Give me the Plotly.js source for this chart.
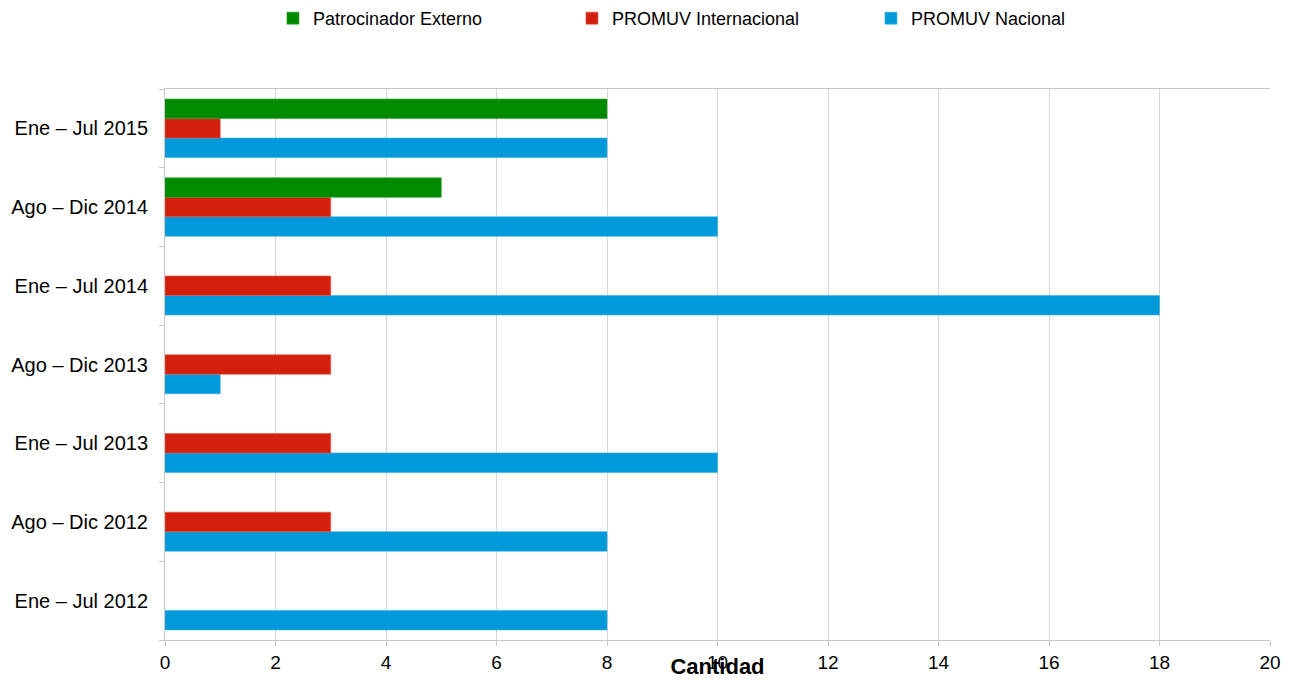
<!DOCTYPE html>
<html>
<head>
<meta charset="utf-8">
<script src="https://cdn.plot.ly/plotly-3.0.1.min.js"></script>
<style>html,body{margin:0;padding:0;background:#fff;}#chart{width:1289px;height:679px;}</style>
</head>
<body>
<div id="chart"></div>
<script>
const categories = ["Ene – Jul 2012", "Ago – Dic 2012", "Ene – Jul 2013", "Ago – Dic 2013", "Ene – Jul 2014", "Ago – Dic 2014", "Ene – Jul 2015"];
const promuvNacional = [8, 8, 10, 1, 18, 10, 8];
const promuvInternacional = [null, 3, 3, 3, 3, 3, 1];
const patrocinadorExterno = [null, null, null, null, null, 5, 8];
const xTicks = [0, 2, 4, 6, 8, 10, 12, 14, 16, 18, 20];

const traces = [
  {type: "bar", orientation: "h", name: "PROMUV Nacional", y: categories, x: promuvNacional,
   marker: {color: "#0099da", line: {color: "#35b0e6", width: 0.6}}},
  {type: "bar", orientation: "h", name: "PROMUV Internacional", y: categories, x: promuvInternacional,
   marker: {color: "#d41f0c", line: {color: "#e05a4a", width: 0.6}}},
  {type: "bar", orientation: "h", name: "Patrocinador Externo", y: categories, x: patrocinadorExterno,
   marker: {color: "#008a00", line: {color: "#2a9e2a", width: 0.6}}}
];

const layout = {
  width: 1289, height: 679,
  margin: {l: 165, r: 19, t: 89, b: 39},
  paper_bgcolor: "#ffffff", plot_bgcolor: "#ffffff",
  font: {family: "Liberation Sans, Arial, sans-serif", color: "#000000", size: 18},
  barmode: "group", bargap: 0.257, bargroupgap: 0,
  showlegend: true,
  legend: {orientation: "h", traceorder: "reversed", x: 0.0977, xanchor: "left", yref: "container", y: 1, yanchor: "top",
           entrywidth: 254, entrywidthmode: "pixels", font: {size: 18}, itemclick: false, tracegroupgap: 0},
  xaxis: {range: [0, 20], tickvals: xTicks, ticktext: xTicks.map(String), showgrid: true, gridcolor: "#d6d6d6", gridwidth: 1,
          zeroline: false, showline: true, linecolor: "#c8c8c8", linewidth: 1, mirror: true,
          ticks: "outside", ticklen: 5, tickcolor: "#c8c8c8", tickfont: {size: 19},
          title: {text: "Cantidad", font: {size: 22, family: "Liberation Sans, Arial, sans-serif", weight: "bold"}, standoff: 0}, fixedrange: true},
  yaxis: {type: "category", categoryorder: "array", categoryarray: categories, showgrid: false, zeroline: false,
          showline: true, linecolor: "#c8c8c8", linewidth: 1,
          ticks: "outside", tickson: "boundaries", ticklen: 5, tickcolor: "#c8c8c8", tickfont: {size: 20},
          ticklabelstandoff: 12, fixedrange: true}
};

Plotly.newPlot("chart", traces, layout, {displayModeBar: false, staticPlot: true});
</script>
</body>
</html>
